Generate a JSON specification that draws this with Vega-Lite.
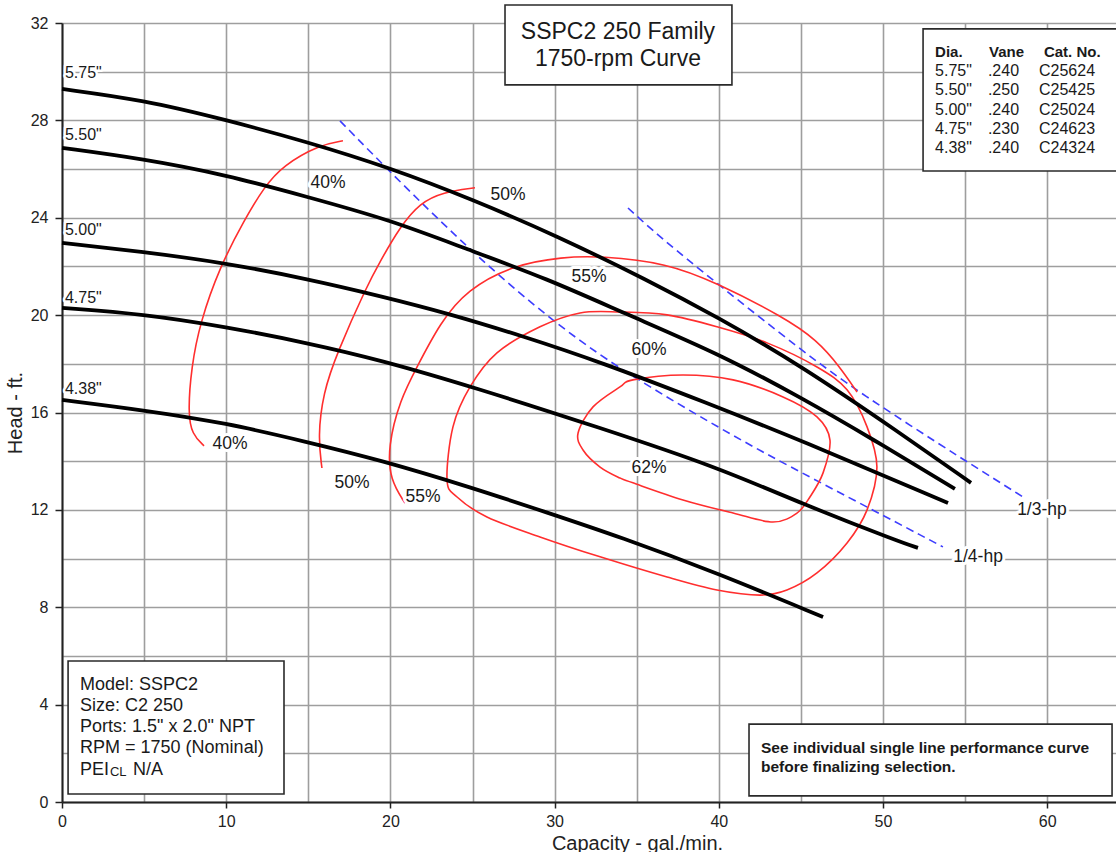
{
  "$schema": "https://vega.github.io/schema/vega-lite/v6.json",
  "autosize": {"type": "none"},
  "padding": {"left": 62, "top": 23, "right": 0, "bottom": 50},
  "width": 1054,
  "height": 779,
  "background": "white",
  "config": {"view": {"stroke": null}, "font": "Liberation Sans"},
  "datasets": {
    "pump": [
      {"d": "5.75", "q": 0, "h": 29.29}, {"d": "5.75", "q": 4.93, "h": 28.84}, {"d": "5.75", "q": 9.99, "h": 28.02}, {"d": "5.75", "q": 14.92, "h": 27.12}, {"d": "5.75", "q": 19.98, "h": 26.05}, {"d": "5.75", "q": 25.0, "h": 24.75}, {"d": "5.75", "q": 30.15, "h": 23.25}, {"d": "5.75", "q": 35.63, "h": 21.45}, {"d": "5.75", "q": 39.89, "h": 19.93}, {"d": "5.75", "q": 44.95, "h": 17.95}, {"d": "5.75", "q": 51.04, "h": 15.16}, {"d": "5.75", "q": 55.36, "h": 13.11},
      {"d": "5.50", "q": 0, "h": 26.87}, {"d": "5.50", "q": 4.93, "h": 26.42}, {"d": "5.50", "q": 9.99, "h": 25.76}, {"d": "5.50", "q": 14.92, "h": 24.86}, {"d": "5.50", "q": 19.98, "h": 23.91}, {"d": "5.50", "q": 24.5, "h": 22.75}, {"d": "5.50", "q": 29.54, "h": 21.5}, {"d": "5.50", "q": 34.5, "h": 20.0}, {"d": "5.50", "q": 39.89, "h": 18.45}, {"d": "5.50", "q": 44.95, "h": 16.64}, {"d": "5.50", "q": 49.39, "h": 14.9}, {"d": "5.50", "q": 54.38, "h": 12.86},
      {"d": "5.00", "q": 0, "h": 22.97}, {"d": "5.00", "q": 4.93, "h": 22.6}, {"d": "5.00", "q": 9.99, "h": 22.14}, {"d": "5.00", "q": 14.92, "h": 21.49}, {"d": "5.00", "q": 19.37, "h": 20.79}, {"d": "5.00", "q": 23.63, "h": 20.05}, {"d": "5.00", "q": 28.0, "h": 19.15}, {"d": "5.00", "q": 32.77, "h": 18.08}, {"d": "5.00", "q": 39.28, "h": 16.39}, {"d": "5.00", "q": 44.95, "h": 14.87}, {"d": "5.00", "q": 53.96, "h": 12.28},
      {"d": "4.75", "q": 0, "h": 20.3}, {"d": "4.75", "q": 4.93, "h": 20.05}, {"d": "4.75", "q": 9.99, "h": 19.52}, {"d": "4.75", "q": 14.92, "h": 18.86}, {"d": "4.75", "q": 19.37, "h": 18.16}, {"d": "4.75", "q": 25.03, "h": 17.05}, {"d": "4.75", "q": 32.77, "h": 15.37}, {"d": "4.75", "q": 39.89, "h": 13.76}, {"d": "4.75", "q": 44.95, "h": 12.28}, {"d": "4.75", "q": 51.04, "h": 10.68}, {"d": "4.75", "q": 52.13, "h": 10.44},
      {"d": "4.38", "q": 0, "h": 16.52}, {"d": "4.38", "q": 4.93, "h": 16.1}, {"d": "4.38", "q": 9.99, "h": 15.57}, {"d": "4.38", "q": 14.92, "h": 14.79}, {"d": "4.38", "q": 19.37, "h": 14.05}, {"d": "4.38", "q": 25.03, "h": 12.9}, {"d": "4.38", "q": 29.5, "h": 11.9}, {"d": "4.38", "q": 33.98, "h": 10.89}, {"d": "4.38", "q": 39.89, "h": 9.41}, {"d": "4.38", "q": 46.35, "h": 7.6}
    ],
    "eff": [
      {"c": "40", "i": 1, "q": 17.11, "h": 27.16}, {"c": "40", "i": 2, "q": 15.71, "h": 27.0}, {"c": "40", "i": 3, "q": 13.46, "h": 26.15}, {"c": "40", "i": 4, "q": 12.3, "h": 25.25}, {"c": "40", "i": 5, "q": 11.1, "h": 23.9}, {"c": "40", "i": 6, "q": 9.62, "h": 22.0}, {"c": "40", "i": 7, "q": 8.4, "h": 19.68}, {"c": "40", "i": 8, "q": 7.88, "h": 17.87}, {"c": "40", "i": 9, "q": 7.67, "h": 15.98}, {"c": "40", "i": 10, "q": 7.92, "h": 15.1}, {"c": "40", "i": 11, "q": 8.65, "h": 14.63},
      {"c": "50", "i": 1, "q": 25.15, "h": 25.23}, {"c": "50", "i": 2, "q": 23.2, "h": 25.05}, {"c": "50", "i": 3, "q": 21.8, "h": 24.61}, {"c": "50", "i": 4, "q": 20.58, "h": 23.62}, {"c": "50", "i": 5, "q": 19.37, "h": 22.2}, {"c": "50", "i": 6, "q": 18.57, "h": 21.2}, {"c": "50", "i": 7, "q": 16.75, "h": 18.45}, {"c": "50", "i": 8, "q": 15.9, "h": 16.8}, {"c": "50", "i": 9, "q": 15.59, "h": 15.0}, {"c": "50", "i": 10, "q": 15.83, "h": 13.72},
      {"c": "55", "i": 1, "q": 20.89, "h": 12.28}, {"c": "55", "i": 2, "q": 19.98, "h": 13.23}, {"c": "55", "i": 3, "q": 19.85, "h": 14.59}, {"c": "55", "i": 4, "q": 20.58, "h": 16.52}, {"c": "55", "i": 5, "q": 21.62, "h": 17.87}, {"c": "55", "i": 6, "q": 23.02, "h": 19.68}, {"c": "55", "i": 7, "q": 24.66, "h": 21.04}, {"c": "55", "i": 8, "q": 27.47, "h": 22.06}, {"c": "55", "i": 9, "q": 30.51, "h": 22.39}, {"c": "55", "i": 10, "q": 32.77, "h": 22.43}, {"c": "55", "i": 11, "q": 36.85, "h": 22.14}, {"c": "55", "i": 12, "q": 39.89, "h": 21.32}, {"c": "55", "i": 13, "q": 43.91, "h": 19.93}, {"c": "55", "i": 14, "q": 45.98, "h": 18.98}, {"c": "55", "i": 15, "q": 47.38, "h": 17.87}, {"c": "55", "i": 16, "q": 48.42, "h": 16.84}
    ],
    "loops": [
      {"c": "60", "i": 1, "q": 23.45, "h": 13.23}, {"c": "60", "i": 2, "q": 23.81, "h": 15.41}, {"c": "60", "i": 3, "q": 24.85, "h": 17.05}, {"c": "60", "i": 4, "q": 26.49, "h": 18.45}, {"c": "60", "i": 5, "q": 29.11, "h": 19.52}, {"c": "60", "i": 6, "q": 31.55, "h": 20.09}, {"c": "60", "i": 7, "q": 33.98, "h": 20.13}, {"c": "60", "i": 8, "q": 36.85, "h": 20.01}, {"c": "60", "i": 9, "q": 39.89, "h": 19.52}, {"c": "60", "i": 10, "q": 42.94, "h": 18.86}, {"c": "60", "i": 11, "q": 45.98, "h": 17.87}, {"c": "60", "i": 12, "q": 47.81, "h": 16.93}, {"c": "60", "i": 13, "q": 49.03, "h": 15.41}, {"c": "60", "i": 14, "q": 49.63, "h": 13.76}, {"c": "60", "i": 15, "q": 49.03, "h": 12.0}, {"c": "60", "i": 16, "q": 47.81, "h": 10.64}, {"c": "60", "i": 17, "q": 45.98, "h": 9.41}, {"c": "60", "i": 18, "q": 44.15, "h": 8.71}, {"c": "60", "i": 19, "q": 42.51, "h": 8.5}, {"c": "60", "i": 20, "q": 39.89, "h": 8.71}, {"c": "60", "i": 21, "q": 36.85, "h": 9.24}, {"c": "60", "i": 22, "q": 32.77, "h": 10.07}, {"c": "60", "i": 23, "q": 29.11, "h": 10.89}, {"c": "60", "i": 24, "q": 25.88, "h": 11.71}, {"c": "60", "i": 25, "q": 24.06, "h": 12.53},
      {"c": "62", "i": 1, "q": 31.43, "h": 15.16}, {"c": "62", "i": 2, "q": 32.34, "h": 16.23}, {"c": "62", "i": 3, "q": 33.98, "h": 17.05}, {"c": "62", "i": 4, "q": 34.77, "h": 17.34}, {"c": "62", "i": 5, "q": 37.82, "h": 17.54}, {"c": "62", "i": 6, "q": 40.87, "h": 17.34}, {"c": "62", "i": 7, "q": 43.91, "h": 16.64}, {"c": "62", "i": 8, "q": 45.98, "h": 15.82}, {"c": "62", "i": 9, "q": 46.77, "h": 14.87}, {"c": "62", "i": 10, "q": 46.35, "h": 13.52}, {"c": "62", "i": 11, "q": 45.55, "h": 12.53}, {"c": "62", "i": 12, "q": 44.76, "h": 11.87}, {"c": "62", "i": 13, "q": 43.3, "h": 11.5}, {"c": "62", "i": 14, "q": 40.87, "h": 11.87}, {"c": "62", "i": 15, "q": 37.82, "h": 12.41}, {"c": "62", "i": 16, "q": 34.77, "h": 13.11}, {"c": "62", "i": 17, "q": 33.98, "h": 13.31}, {"c": "62", "i": 18, "q": 32.77, "h": 13.76}, {"c": "62", "i": 19, "q": 31.73, "h": 14.46}
    ],
    "hp": [
      {"p": "1/4", "q": 16.93, "h": 27.98}, {"p": "1/4", "q": 20.58, "h": 25.47}, {"p": "1/4", "q": 24.06, "h": 23.2}, {"p": "1/4", "q": 26.49, "h": 21.7}, {"p": "1/4", "q": 29.9, "h": 19.75}, {"p": "1/4", "q": 33.98, "h": 17.75}, {"p": "1/4", "q": 41.29, "h": 14.87}, {"p": "1/4", "q": 44.95, "h": 13.56}, {"p": "1/4", "q": 53.65, "h": 10.48},
      {"p": "1/3", "q": 34.47, "h": 24.4}, {"p": "1/3", "q": 36.42, "h": 23.2}, {"p": "1/3", "q": 39.89, "h": 21.3}, {"p": "1/3", "q": 44.95, "h": 18.6}, {"p": "1/3", "q": 48.48, "h": 16.84}, {"p": "1/3", "q": 55.12, "h": 13.97}, {"p": "1/3", "q": 58.53, "h": 12.53}
    ],
    "boxes": [
      {"b": "title", "q": 26.98, "q2": 40.8, "h": 32.74, "h2": 29.46},
      {"b": "legend", "q": 52.44, "q2": 66, "h": 31.76, "h2": 25.92},
      {"b": "model", "q": 0.37, "q2": 13.52, "h": 5.79, "h2": 0.33},
      {"b": "note", "q": 41.84, "q2": 63.95, "h": 3.2, "h2": 0.25}
    ],
    "labels": [
      {"k": "dia", "t": "5.75\"", "q": 0.18, "h": 29.95},
      {"k": "dia", "t": "5.50\"", "q": 0.18, "h": 27.4},
      {"k": "dia", "t": "5.00\"", "q": 0.18, "h": 23.5},
      {"k": "dia", "t": "4.75\"", "q": 0.18, "h": 20.71},
      {"k": "dia", "t": "4.38\"", "q": 0.18, "h": 16.97},
      {"k": "eff", "t": "40%", "q": 16.2, "h": 25.43},
      {"k": "eff", "t": "40%", "q": 10.23, "h": 14.71},
      {"k": "eff", "t": "50%", "q": 27.16, "h": 24.94},
      {"k": "eff", "t": "50%", "q": 17.66, "h": 13.11},
      {"k": "eff", "t": "55%", "q": 32.1, "h": 21.57},
      {"k": "eff", "t": "55%", "q": 21.99, "h": 12.53},
      {"k": "eff", "t": "60%", "q": 35.75, "h": 18.57},
      {"k": "eff", "t": "62%", "q": 35.75, "h": 13.72},
      {"k": "eff", "t": "1/3-hp", "q": 59.68, "h": 12.0},
      {"k": "eff", "t": "1/4-hp", "q": 55.79, "h": 10.07},
      {"k": "title", "t": "SSPC2 250 Family", "q": 33.86, "h": 31.65},
      {"k": "title", "t": "1750-rpm Curve", "q": 33.86, "h": 30.51},
      {"k": "lhead", "t": "Dia.", "q": 53.17, "h": 30.81},
      {"k": "lhead", "t": "Vane", "q": 56.46, "h": 30.81},
      {"k": "lhead", "t": "Cat. No.", "q": 59.8, "h": 30.81},
      {"k": "leg", "t": "5.75\"", "q": 53.17, "h": 30.03},
      {"k": "leg", "t": ".240", "q": 56.39, "h": 30.03},
      {"k": "leg", "t": "C25624", "q": 59.5, "h": 30.03},
      {"k": "leg", "t": "5.50\"", "q": 53.17, "h": 29.25},
      {"k": "leg", "t": ".250", "q": 56.39, "h": 29.25},
      {"k": "leg", "t": "C25425", "q": 59.5, "h": 29.25},
      {"k": "leg", "t": "5.00\"", "q": 53.17, "h": 28.43},
      {"k": "leg", "t": ".240", "q": 56.39, "h": 28.43},
      {"k": "leg", "t": "C25024", "q": 59.5, "h": 28.43},
      {"k": "leg", "t": "4.75\"", "q": 53.17, "h": 27.65},
      {"k": "leg", "t": ".230", "q": 56.39, "h": 27.65},
      {"k": "leg", "t": "C24623", "q": 59.5, "h": 27.65},
      {"k": "leg", "t": "4.38\"", "q": 53.17, "h": 26.87},
      {"k": "leg", "t": ".240", "q": 56.39, "h": 26.87},
      {"k": "leg", "t": "C24324", "q": 59.5, "h": 26.87},
      {"k": "model", "t": "Model: SSPC2", "q": 1.1, "h": 4.81},
      {"k": "model", "t": "Size: C2 250", "q": 1.1, "h": 3.94},
      {"k": "model", "t": "Ports: 1.5\" x 2.0\" NPT", "q": 1.1, "h": 3.08},
      {"k": "model", "t": "RPM = 1750 (Nominal)", "q": 1.1, "h": 2.22},
      {"k": "model", "t": "PEI", "q": 1.1, "h": 1.31},
      {"k": "model", "t": "N/A", "q": 4.32, "h": 1.31},
      {"k": "sub", "t": "CL", "q": 2.92, "h": 1.25},
      {"k": "note", "t": "See individual single line performance curve", "q": 42.57, "h": 2.22},
      {"k": "note", "t": "before finalizing selection.", "q": 42.57, "h": 1.44}
    ]
  },
  "encoding": {
    "x": {
      "field": "q", "type": "quantitative",
      "scale": {"domain": [0, 64.19], "nice": false, "zero": false},
      "axis": {
        "title": "Capacity - gal./min.",
        "values": [0, 5, 10, 15, 20, 25, 30, 35, 40, 45, 50, 55, 60],
        "labelExpr": "datum.value % 10 === 0 ? datum.label : ''",
        "tickOpacity": {"condition": {"test": "datum.value % 10 === 0", "value": 1}, "value": 0},
        "grid": true, "gridColor": "#9e9e9e", "gridWidth": 1.6,
        "domainColor": "#222222", "domainWidth": 2,
        "tickColor": "#222222", "tickWidth": 1.5, "tickSize": 6,
        "labelFont": "Liberation Sans", "labelFontSize": 16, "labelColor": "#222222", "labelPadding": 5,
        "labelFlush": false, "labelOverlap": false,
        "titleFont": "Liberation Sans", "titleFontSize": 20, "titleFontWeight": "normal", "titleColor": "#222222",
        "titleX": 575, "titleY": 47, "titleBaseline": "alphabetic"
      }
    },
    "y": {
      "field": "h", "type": "quantitative",
      "scale": {"domain": [0, 32], "nice": false, "zero": false},
      "axis": {
        "title": "Head - ft.",
        "values": [0, 2, 4, 6, 8, 10, 12, 14, 16, 18, 20, 22, 24, 26, 28, 30, 32],
        "labelExpr": "datum.value % 4 === 0 ? datum.label : ''",
        "tickOpacity": {"condition": {"test": "datum.value % 4 === 0", "value": 1}, "value": 0},
        "grid": true, "gridColor": "#9e9e9e", "gridWidth": 1.6,
        "domainColor": "#222222", "domainWidth": 2,
        "tickColor": "#222222", "tickWidth": 1.5, "tickSize": 7,
        "labelFont": "Liberation Sans", "labelFontSize": 16, "labelColor": "#222222", "labelPadding": 7,
        "labelFlush": false, "labelOverlap": false,
        "titleFont": "Liberation Sans", "titleFontSize": 20, "titleFontWeight": "normal", "titleColor": "#222222",
        "titlePadding": 5
      }
    }
  },
  "layer": [
    {
      "data": {"name": "hp"},
      "mark": {"type": "line", "color": "#3d3dff", "strokeWidth": 1.6, "strokeDash": [8, 5], "interpolate": "basis"},
      "encoding": {"detail": {"field": "p"}}
    },
    {
      "data": {"name": "eff"},
      "mark": {"type": "line", "color": "#ff2e2e", "strokeWidth": 1.6, "interpolate": "basis"},
      "encoding": {"detail": {"field": "c"}, "order": {"field": "i", "type": "quantitative"}}
    },
    {
      "data": {"name": "loops"},
      "mark": {"type": "line", "color": "#ff2e2e", "strokeWidth": 1.6, "interpolate": "cardinal-closed"},
      "encoding": {"detail": {"field": "c"}, "order": {"field": "i", "type": "quantitative"}}
    },
    {
      "data": {"name": "pump"},
      "mark": {"type": "line", "color": "black", "strokeWidth": 3.8, "interpolate": "basis"},
      "encoding": {"detail": {"field": "d"}}
    },
    {
      "data": {"name": "boxes"},
      "mark": {"type": "rect", "fill": "white", "stroke": "#2a2a2a", "strokeWidth": 1.6},
      "encoding": {"x2": {"field": "q2"}, "y2": {"field": "h2"}}
    },
    {
      "data": {"name": "labels"},
      "transform": [{"filter": "datum.k === 'dia'"}],
      "mark": {"type": "text", "align": "left", "baseline": "middle", "fontSize": 16, "stroke": "white", "strokeWidth": 5, "strokeJoin": "round", "fill": "white"},
      "encoding": {"text": {"field": "t"}}
    },
    {
      "data": {"name": "labels"},
      "transform": [{"filter": "datum.k === 'dia'"}],
      "mark": {"type": "text", "align": "left", "baseline": "middle", "fontSize": 16, "color": "#1a1a1a"},
      "encoding": {"text": {"field": "t"}}
    },
    {
      "data": {"name": "labels"},
      "transform": [{"filter": "datum.k === 'eff'"}],
      "mark": {"type": "text", "align": "center", "baseline": "middle", "fontSize": 17.5, "stroke": "white", "strokeWidth": 6, "strokeJoin": "round", "fill": "white"},
      "encoding": {"text": {"field": "t"}}
    },
    {
      "data": {"name": "labels"},
      "transform": [{"filter": "datum.k === 'eff'"}],
      "mark": {"type": "text", "align": "center", "baseline": "middle", "fontSize": 17.5, "color": "#1a1a1a"},
      "encoding": {"text": {"field": "t"}}
    },
    {
      "data": {"name": "labels"},
      "transform": [{"filter": "datum.k === 'title'"}],
      "mark": {"type": "text", "align": "center", "baseline": "middle", "fontSize": 23, "color": "#1a1a1a"},
      "encoding": {"text": {"field": "t"}}
    },
    {
      "data": {"name": "labels"},
      "transform": [{"filter": "datum.k === 'lhead'"}],
      "mark": {"type": "text", "align": "left", "baseline": "middle", "fontSize": 15, "fontWeight": "bold", "color": "#1a1a1a"},
      "encoding": {"text": {"field": "t"}}
    },
    {
      "data": {"name": "labels"},
      "transform": [{"filter": "datum.k === 'leg'"}],
      "mark": {"type": "text", "align": "left", "baseline": "middle", "fontSize": 16, "color": "#1a1a1a"},
      "encoding": {"text": {"field": "t"}}
    },
    {
      "data": {"name": "labels"},
      "transform": [{"filter": "datum.k === 'model'"}],
      "mark": {"type": "text", "align": "left", "baseline": "middle", "fontSize": 18, "color": "#1a1a1a"},
      "encoding": {"text": {"field": "t"}}
    },
    {
      "data": {"name": "labels"},
      "transform": [{"filter": "datum.k === 'sub'"}],
      "mark": {"type": "text", "align": "left", "baseline": "middle", "fontSize": 13, "color": "#1a1a1a"},
      "encoding": {"text": {"field": "t"}}
    },
    {
      "data": {"name": "labels"},
      "transform": [{"filter": "datum.k === 'note'"}],
      "mark": {"type": "text", "align": "left", "baseline": "middle", "fontSize": 15.5, "fontWeight": "bold", "color": "#1a1a1a"},
      "encoding": {"text": {"field": "t"}}
    }
  ]
}
